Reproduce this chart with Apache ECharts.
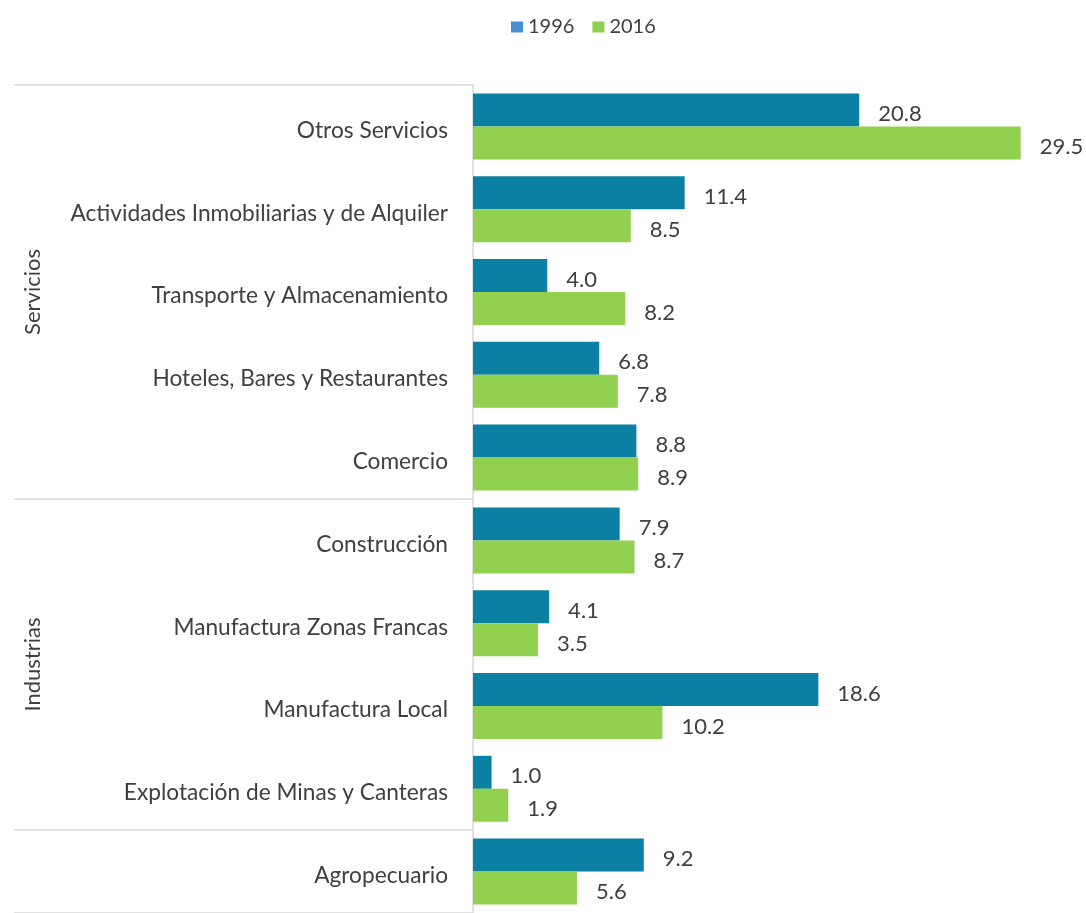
<!DOCTYPE html>
<html>
<head>
<meta charset="utf-8">
<script src="https://cdn.jsdelivr.net/npm/echarts@6/dist/echarts.min.js"></script>
<style>
  html, body { margin: 0; padding: 0; background: #fff; }
  #chart { width: 1086px; height: 913px; }
</style>
</head>
<body>
<div id="chart"></div>
<script>
var sectores = ['Otros Servicios', 'Actividades Inmobiliarias y de Alquiler', 'Transporte y Almacenamiento',
  'Hoteles, Bares y Restaurantes', 'Comercio', 'Construcción', 'Manufactura Zonas Francas',
  'Manufactura Local', 'Explotación de Minas y Canteras', 'Agropecuario'];
var valores1996 = [20.8, 11.4, 4.0, 6.8, 8.8, 7.9, 4.1, 18.6, 1.0, 9.2];
var valores2016 = [29.5, 8.5, 8.2, 7.8, 8.9, 8.7, 3.5, 10.2, 1.9, 5.6];
// grupos: nombre, primer y ultimo indice de sector
var grupos = [
  { nombre: 'Servicios', desde: 0, hasta: 4 },
  { nombre: 'Industrias', desde: 5, hasta: 8 }
];
var cortes = [0, 5, 9]; // lineas separadoras antes de estos sectores

var FONT = 'Lato';
var GRIS = '#404040';
var chart = echarts.init(document.getElementById('chart'));

var etiqueta = {
  show: true,
  position: 'right',
  distance: 19,
  offset: [0, 4],
  color: GRIS,
  fontFamily: FONT,
  fontSize: 22,
  formatter: function (p) { return p.value.toFixed(1); }
};

chart.setOption({
  animation: false,
  legend: {
    top: 12,
    left: 506,
    itemWidth: 12,
    itemHeight: 11,
    itemGap: 18,
    textStyle: { color: GRIS, fontFamily: FONT, fontSize: 20, padding: [3, 0, 0, 0] },
    data: [
      { name: '1996', icon: 'rect', itemStyle: { color: '#4a8fd6' } },
      { name: '2016', icon: 'rect' }
    ]
  },
  grid: { left: 473, top: 85, width: 557, height: 838 },
  xAxis: {
    type: 'value', min: 0, max: 30, show: false
  },
  yAxis: {
    type: 'category',
    inverse: true,
    data: sectores,
    axisLine: { show: true, lineStyle: { color: '#d9d9d9', width: 1.5 } },
    axisTick: {
      show: true,
      length: 459,
      lineStyle: { color: '#d9d9d9', width: 1.5 },
      interval: function (i) { return cortes.indexOf(i) >= 0; }
    },
    axisLabel: {
      margin: 25,
      formatter: function (v) { return '{s|' + v + '}'; },
      rich: {
        s: { color: GRIS, fontFamily: FONT, fontSize: 22.7, padding: [8, 0, 0, 0] }
      }
    }
  },
  series: [
    { name: '1996', type: 'bar', data: valores1996, barWidth: 33, barGap: '0%',
      itemStyle: { color: '#0b80a2' }, label: etiqueta },
    { name: '2016', type: 'bar', data: valores2016, barWidth: 33,
      itemStyle: { color: '#92d050' }, label: etiqueta }
  ]
});

// etiquetas de grupo, ubicadas con la escala del eje
var graficos = grupos.map(function (g) {
  var y0 = chart.convertToPixel({ yAxisIndex: 0 }, g.desde);
  var y1 = chart.convertToPixel({ yAxisIndex: 0 }, g.hasta);
  return {
    type: 'text',
    x: 33,
    y: (y0 + y1) / 2,
    rotation: Math.PI / 2,
    style: {
      text: g.nombre, fill: GRIS, font: '22px ' + FONT,
      align: 'center', verticalAlign: 'middle'
    }
  };
});
chart.setOption({ graphic: graficos });
</script>
</body>
</html>
